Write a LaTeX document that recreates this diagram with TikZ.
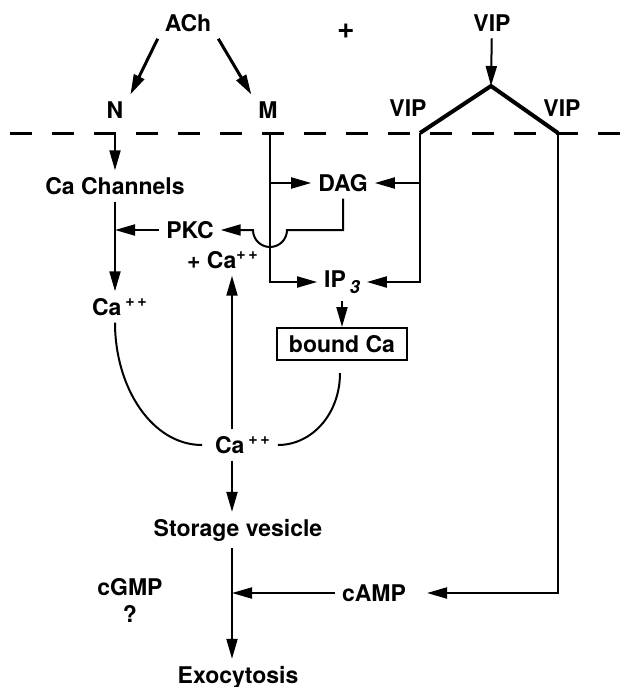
\documentclass[tikz,border=0pt]{standalone}
\usepackage{fontspec}
\setmainfont{TeX Gyre Heros}
\usetikzlibrary{positioning,calc,arrows.meta}
\tikzstyle{arrow} = [-{Triangle[length=10pt,width=5.5pt]}, line width=1pt]
\tikzstyle{membrane} = [line width=1.5pt, dash pattern=on 11pt off 10pt]

\begin{document}
\begin{tikzpicture}[x=0.5pt, y=-0.5pt, every node/.style={font=\fontsize{11.5}{13}\selectfont\bfseries}]
    \useasboundingbox (0,0) rectangle (626,687);
    % membrane
    \coordinate (memL) at (10,133);
    \coordinate (memR) at (626,133);
    \draw[membrane] (memL) -- (memR);

    \node (ach) at (188,23) {ACh};
    \node[font=\fontsize{15}{16}\selectfont\bfseries] (plus) at (346,31) {+};
    \node (viptop) at (492,23) {VIP};
    \node (n) at (115,110) {N};
    \node (m) at (268,110) {M};
    \node (vipl) at (408,108) {VIP};
    \node (vipr) at (562,108) {VIP};
    \coordinate (apex) at (491,86);
    \coordinate (vl) at (420,133);
    \coordinate (vr) at (558,133);
    \coordinate (nj) at (115,133);
    \coordinate (mj) at (270,133);
    \coordinate (stem) at (232,0);

    \node (chan) at (115,186) {Ca Channels};
    \node (dag) at (343,183) {DAG};
    \node (pkc) at (190,230) {PKC};
    \node (caplus) at (223,260) {+ Ca\textsuperscript{+\,+}};
    \node (ip3) at (342,282) {IP\,\raisebox{-0.5ex}{\small\itshape 3}};
    \node[draw, line width=1pt, minimum width=65pt, minimum height=16pt] (bound) at (342,344) {bound Ca};
    \node (cal) at (120,307) {Ca\,\textsuperscript{+\,+}};
    \node (cab) at (243,445) {Ca\,\textsuperscript{+\,+}};
    \node (store) at (238,530) {Storage vesicle};
    \node (cgmp) at (130,587) {cGMP};
    \node[below=-2pt of cgmp] (q) {?};
    \node (camp) at (374,593) {cAMP};
    \node (exo) at (238,677) {Exocytosis};

    % receptors
    \draw[arrow, line width=1.5pt] (ach.south west) -- (n.north east);
    \draw[arrow, line width=1.5pt] (ach.south east) -- (m.north west);
    \draw[arrow] (viptop) -- (apex);
    \draw[line width=2pt] (vl) -- (apex) -- (vr);

    % nicotinic side
    \draw[arrow] (nj) -- (chan);
    \draw[arrow] (chan) -- (chan |- cal.north);
    \draw[arrow] (pkc) -- (chan |- pkc);

    % muscarinic and VIP side
    \draw[arrow] (mj) |- (ip3);
    \draw[arrow] (mj |- dag) -- (dag);
    \draw[arrow] (vl) |- (ip3);
    \draw[arrow] (vl |- dag) -- (dag);
    \draw[arrow] (dag) |- ($(mj |- pkc)+(17,0)$) arc[start angle=0, end angle=180, radius=17] -- (pkc);
    \draw[arrow] (ip3) -- (ip3 |- bound.north);

    % calcium loop
    \draw[line width=1pt] (cal.south -| chan) .. controls +(0,65) and +(-50,0) .. ($(cab.west)+(-6,0)$);
    \draw[line width=1pt] ($(bound.south)+(-2,12)$) .. controls +(0,41) and +(34,0) .. (cab.east);
    \draw[arrow] (cab.north -| stem) -- (caplus.south -| stem);
    \draw[arrow] (cab.south -| stem) -- (store.north -| stem);
    \draw[arrow] (store.south -| stem) -- (exo.north -| stem);
    \draw[arrow] (camp) -- (stem |- camp);
    \draw[arrow, shorten >=7pt] (vr) |- (camp);
\end{tikzpicture}
\end{document}
